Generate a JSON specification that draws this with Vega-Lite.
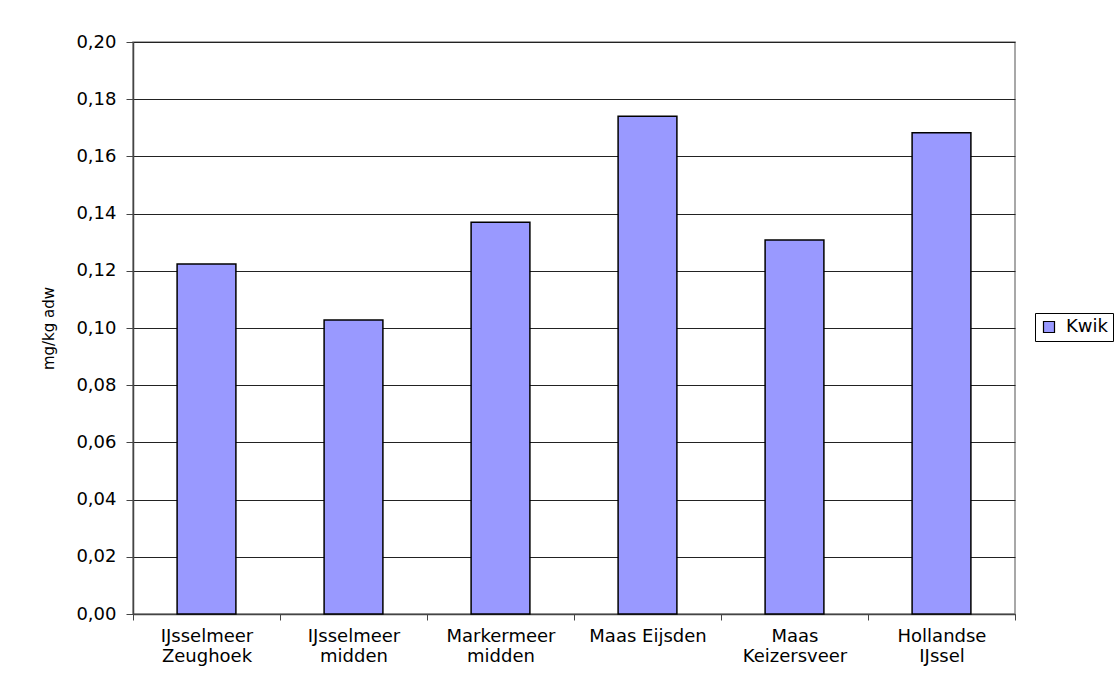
{
  "$schema": "https://vega.github.io/schema/vega-lite/v6.json",
  "autosize": {"type": "none"},
  "padding": {"left": 133, "top": 42, "right": 105, "bottom": 70},
  "width": 882,
  "height": 572,
  "background": "white",
  "config": {
    "font": "DejaVu Sans",
    "view": {"stroke": "#8c8c8c", "strokeWidth": 1.5}
  },
  "data": {
    "values": [
      {"locatie": "IJsselmeer|Zeughoek", "serie": "Kwik", "waarde": 0.1224},
      {"locatie": "IJsselmeer|midden", "serie": "Kwik", "waarde": 0.1028},
      {"locatie": "Markermeer|midden", "serie": "Kwik", "waarde": 0.137},
      {"locatie": "Maas Eijsden", "serie": "Kwik", "waarde": 0.174},
      {"locatie": "Maas|Keizersveer", "serie": "Kwik", "waarde": 0.1308},
      {"locatie": "Hollandse|IJssel", "serie": "Kwik", "waarde": 0.1683}
    ]
  },
  "mark": {"type": "bar", "width": {"band": 0.4}, "stroke": "#000", "strokeWidth": 1.5},
  "encoding": {
    "x": {
      "field": "locatie",
      "type": "nominal",
      "sort": null,
      "scale": {"paddingInner": 0, "paddingOuter": 0},
      "axis": {
        "title": null,
        "labelAngle": 0,
        "labelExpr": "split(datum.label, '|')",
        "labelFontSize": 18,
        "labelColor": "#000",
        "labelLineHeight": 20,
        "labelPadding": 7,
        "labelBaseline": "top",
        "tickBand": "extent",
        "tickSize": 6,
        "tickColor": "#444",
        "domainColor": "#444",
        "domainWidth": 1.5,
        "grid": false
      }
    },
    "y": {
      "field": "waarde",
      "type": "quantitative",
      "scale": {"domain": [0, 0.2], "nice": false},
      "axis": {
        "title": "mg/kg adw",
        "titleFontSize": 15,
        "titleFontWeight": "normal",
        "titleColor": "#000",
        "titleAngle": 270,
        "titleX": -80,
        "titleY": 286,
        "titleAlign": "center",
        "titleBaseline": "alphabetic",
        "values": [0, 0.02, 0.04, 0.06, 0.08, 0.1, 0.12, 0.14, 0.16, 0.18, 0.2],
        "labelExpr": "replace(format(datum.value, '.2f'), '.', ',')",
        "labelFontSize": 18,
        "labelColor": "#000",
        "labelPadding": 10,
        "tickSize": 7,
        "tickColor": "#444",
        "domainColor": "#444",
        "domainWidth": 1.5,
        "gridColor": "#222",
        "gridWidth": 1
      }
    },
    "color": {
      "field": "serie",
      "type": "nominal",
      "scale": {"range": ["#9999FF"]},
      "legend": {
        "title": null,
        "orient": "none",
        "legendX": 902,
        "legendY": 271,
        "strokeColor": "#000",
        "fillColor": "white",
        "padding": 5,
        "symbolType": "square",
        "symbolSize": 121,
        "symbolStrokeColor": "#000",
        "symbolStrokeWidth": 1.2,
        "labelFontSize": 18,
        "labelColor": "#000",
        "labelOffset": 8
      }
    }
  }
}
